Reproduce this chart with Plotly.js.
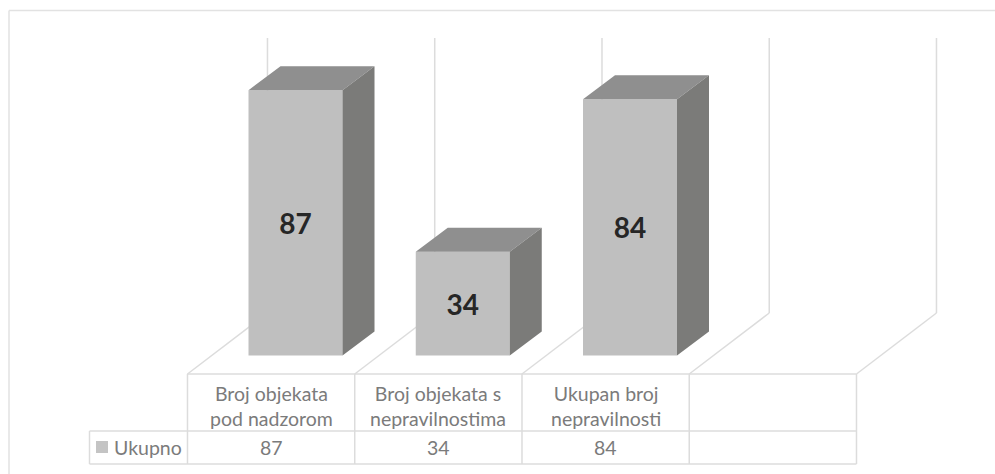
<!DOCTYPE html>
<html><head><meta charset="utf-8">
<script src="https://cdn.plot.ly/plotly-3.0.1.min.js"></script>
<style>html,body{margin:0;padding:0;background:#fff}#c{width:995px;height:474px}</style>
</head><body><div id="c"></div>
<script>
const categories = ["Broj objekata<br>pod nadzorom", "Broj objekata s<br>nepravilnostima", "Ukupan broj<br>nepravilnosti", ""];
const seriesName = "Ukupno";
const values = [87, 34, 84, null];
const W = 995, H = 474;
const catPx = 167.25, zeroXPx = 271.1, zeroYPx = 355.5, unitPx = 3.05;
const barWidth = 94 / catPx, depthX = 32 / catPx, depthY = 24 / unitPx, barShift = 24.4 / catPx;
const grid = '#dcdcdc', front = '#bfbfbf', top_ = '#8f8f8f', side = '#7b7b79', txt = '#7b7b7b';
const xr = [-zeroXPx / catPx, (W - zeroXPx) / catPx];
const yr = [(zeroYPx - H) / unitPx, zeroYPx / unitPx];
const line = (x0, y0, x1, y1, color) => ({type: 'line', xref: 'paper', yref: 'paper', x0: x0 / W, x1: x1 / W, y0: 1 - y0 / H, y1: 1 - y1 / H, line: {color: color || grid, width: 1.5}, layer: 'below'});
const tableTop = 374, tableMid = 431, tableBot = 464, tableL = 89.5;
const colX = [0, 1, 2, 3, 4].map(i => zeroXPx + (i - 0.5) * catPx);
const shapes = [
  line(9, 10.5, 995, 10.5, '#e2e2e2'), line(9, 10.5, 9, 474, '#e2e2e2'),
  line(colX[0], tableTop, colX[4], tableTop), line(tableL, tableMid, colX[4], tableMid), line(tableL, tableBot, colX[4], tableBot),
  line(tableL, tableMid, tableL, tableBot)
];
colX.forEach(x => shapes.push(line(x, tableTop, x, tableBot)));
colX.forEach(x => {
  shapes.push(line(x, tableTop, x + 80, tableTop - 61));
  shapes.push(line(x + 80, tableTop - 61, x + 80, 38));
});
const faces = (name, color, fn) => ({type: 'scatter', mode: 'lines', fill: 'toself', fillcolor: color, line: {width: 0}, hoverinfo: 'skip', showlegend: false, name,
  x: values.flatMap((v, i) => v == null ? [] : [...fn(v, i + barShift).x, null]),
  y: values.flatMap((v, i) => v == null ? [] : [...fn(v, i + barShift).y, null])});
const hw = barWidth / 2;
const traces = [
  {type: 'bar', name: seriesName, x: values.map((_, i) => i + barShift), y: values, width: barWidth, marker: {color: front, line: {width: 0}},
   text: values.map(v => v == null ? '' : String(v)), textposition: 'inside', insidetextanchor: 'middle', constraintext: 'none', textangle: 0,
   textfont: {family: 'Lato', size: 28, color: '#262626', weight: 700}, hoverinfo: 'skip'},
  faces('top', top_, (v, c) => ({x: [c - hw, c + hw, c + hw + depthX, c - hw + depthX, c - hw], y: [v, v, v + depthY, v + depthY, v]})),
  faces('side', side, (v, c) => ({x: [c + hw, c + hw + depthX, c + hw + depthX, c + hw, c + hw], y: [0, depthY, v + depthY, v, 0]}))
];
const font = {family: 'Lato', size: 19.5, color: txt};
const annotations = categories.map((c, i) => ({xref: 'x', yref: 'paper', x: i, y: 1 - 405.5 / H, text: c, showarrow: false, font, align: 'center', xanchor: 'center', yanchor: 'middle'}))
  .filter(a => a.text);
values.forEach((v, i) => { if (v != null) annotations.push({xref: 'x', yref: 'paper', x: i, y: 1 - 447.5 / H, text: String(v), showarrow: false, font, xanchor: 'center', yanchor: 'middle'}); });
annotations.push({xref: 'paper', yref: 'paper', x: 112 / W, y: 1 - 447.5 / H, text: seriesName, showarrow: false, font, xanchor: 'left', yanchor: 'middle'});
shapes.push({type: 'rect', xref: 'paper', yref: 'paper', x0: 96 / W, x1: 108 / W, y0: 1 - 441 / H, y1: 1 - 453 / H, fillcolor: '#c4c4c4', line: {width: 0}});
Plotly.newPlot('c', traces, {
  width: W, height: H, margin: {l: 0, r: 0, t: 0, b: 0}, paper_bgcolor: '#fff', plot_bgcolor: '#fff', showlegend: false,
  xaxis: {range: xr, visible: false, fixedrange: true}, yaxis: {range: yr, visible: false, fixedrange: true},
  shapes, annotations
}, {displayModeBar: false, staticPlot: true});
</script></body></html>
